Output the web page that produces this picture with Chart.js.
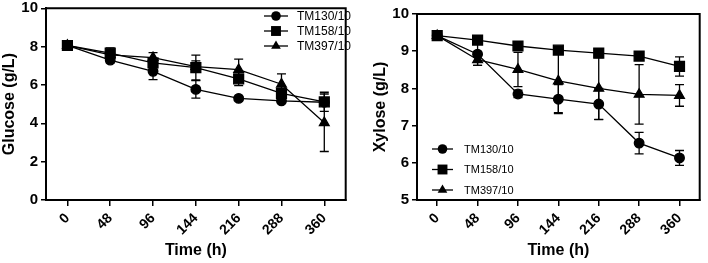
<!DOCTYPE html>
<html>
<head>
<meta charset="utf-8">
<script src="https://cdn.jsdelivr.net/npm/chart.js@4.4.0/dist/chart.umd.min.js"></script>
<style>
    body { margin: 0; background: #fff; }
    #wrap { position: relative; width: 708px; height: 263px; }
    #left, #right { position: absolute; top: 0; }
    #left { left: 0; }
    #right { left: 354px; }
    .lg { position: absolute; font-family: 'Liberation Sans', Arial, sans-serif; color: #000; line-height: 1; white-space: nowrap; }
</style>
</head>
<body>
<div id="wrap">
    <canvas id="left" width="354" height="263"></canvas>
    <canvas id="right" width="354" height="263"></canvas>
</div>
<script>
const times = ['0', '48', '96', '144', '216', '288', '360'];
const strains = ['TM130/10', 'TM158/10', 'TM397/10'];

// glucose (g/L)
const glcTM130 = [8.07, 7.30, 6.71, 5.77, 5.30, 5.17, 5.10];
const glcTM130Err = [0.05, 0.15, 0.43, 0.46, 0.08, 0.08, 0.10];
const glcTM158 = [8.06, 7.66, 7.15, 6.91, 6.32, 5.56, 5.12];
const glcTM158Err = [0.05, 0.28, 0.20, 0.65, 0.35, 0.20, 0.50];
const glcTM397 = [8.06, 7.57, 7.43, 6.96, 6.80, 6.04, 4.03];
const glcTM397Err = [0.05, 0.10, 0.26, 0.30, 0.55, 0.54, 1.50];
const glcTicks = [0, 2, 4, 6, 8, 10];

// xylose (g/L)
const xylTM130 = [9.42, 8.92, 7.85, 7.71, 7.58, 6.53, 6.13];
const xylTM130Err = [0.03, 0.30, 0.10, 0.39, 0.42, 0.29, 0.20];
const xylTM158 = [9.42, 9.30, 9.14, 9.03, 8.95, 8.87, 8.59];
const xylTM158Err = [0.03, 0.05, 0.05, 0.05, 0.05, 0.05, 0.26];
const xylTM397 = [9.42, 8.77, 8.51, 8.20, 8.00, 7.84, 7.81];
const xylTM397Err = [0.03, 0.15, 0.46, 0.85, 0.83, 0.80, 0.29];
const xylTicks = [5, 6, 7, 8, 9, 10];

const FONT = "'Liberation Sans', Arial, sans-serif";
const styles = ['circle', 'rect', 'triangle'];
const radii = [4.8, 7, 5.6];

// error bars, frame and legend symbols
const errorBars = {
    id: 'errorBars',
    beforeDatasetsDraw(chart) {
        const ctx = chart.ctx;
        const y = chart.scales.y;
        ctx.save();
        ctx.strokeStyle = '#000';
        ctx.lineWidth = 1.3;
        chart.data.datasets.forEach((ds, i) => {
            const meta = chart.getDatasetMeta(i);
            meta.data.forEach((pt, j) => {
                const e = ds.errors[j];
                const top = y.getPixelForValue(ds.data[j] + e);
                const bot = y.getPixelForValue(ds.data[j] - e);
                ctx.beginPath();
                ctx.moveTo(pt.x, top); ctx.lineTo(pt.x, bot);
                ctx.moveTo(pt.x - 4.5, top); ctx.lineTo(pt.x + 4.5, top);
                ctx.moveTo(pt.x - 4.5, bot); ctx.lineTo(pt.x + 4.5, bot);
                ctx.stroke();
            });
        });
        ctx.restore();
    },
    afterDraw(chart, args, lg) {
        const ctx = chart.ctx;
        const a = chart.chartArea;
        ctx.save();
        ctx.strokeStyle = '#000';
        ctx.fillStyle = '#000';
        ctx.lineWidth = 2;
        ctx.beginPath();
        ctx.rect(a.left, a.top, a.right - a.left, a.bottom - a.top);
        ctx.stroke();
        ctx.lineWidth = 1.3;
        for (let i = 0; i < strains.length; i++) {
            const yy = lg.y + i * lg.step;
            ctx.beginPath();
            ctx.moveTo(lg.x, yy);
            ctx.lineTo(lg.x + lg.len, yy);
            ctx.stroke();
            Chart.helpers.drawPoint(ctx, { pointStyle: styles[i], radius: radii[i], borderWidth: 0 },
                lg.x + lg.len / 2, yy);
        }
        ctx.restore();
    }
};

function addLegendText(offset, lg) {
    const wrap = document.getElementById('wrap');
    strains.forEach((name, i) => {
        const d = document.createElement('div');
        d.className = 'lg';
        d.textContent = name;
        d.style.fontSize = lg.fontSize + 'px';
        d.style.left = (offset + lg.x + lg.len + lg.gap) + 'px';
        d.style.top = (lg.y + i * lg.step - lg.fontSize * 0.5) + 'px';
        wrap.appendChild(d);
    });
}

function makeSets(a, b, c, ea, eb, ec) {
    return [a, b, c].map((d, i) => ({
        label: strains[i],
        data: d,
        errors: [ea, eb, ec][i],
        borderColor: '#000',
        backgroundColor: '#000',
        borderWidth: 1.3,
        pointStyle: styles[i],
        pointRadius: radii[i],
        tension: 0
    }));
}

function makeChart(id, sets, yMin, yMax, step, title, yWidth, pad, legend) {
    return new Chart(document.getElementById(id), {
        type: 'line',
        data: { labels: times, datasets: sets },
        options: {
            responsive: false,
            animation: false,
            layout: { padding: pad },
            plugins: {
                legend: { display: false },
                tooltip: { enabled: false },
                errorBars: legend
            },
            scales: {
                x: {
                    offset: true,
                    afterFit: (s) => { s.height = 60; },
                    grid: { drawOnChartArea: false, color: '#000', tickLength: 6, lineWidth: 1.5 },
                    border: { color: '#000', width: 2 },
                    ticks: {
                        color: '#000', maxRotation: 45, minRotation: 45, padding: 4,
                        font: { family: FONT, size: 14, weight: 'bold' }
                    },
                    title: {
                        display: true, text: 'Time (h)', color: '#000', padding: 0,
                        font: { family: FONT, size: 16, weight: 'bold' }
                    }
                },
                y: {
                    min: yMin, max: yMax,
                    afterFit: (s) => { s.width = yWidth; s.paddingTop = 0; s.paddingBottom = 0; },
                    grid: { drawOnChartArea: false, color: '#000', tickLength: 5, lineWidth: 1.5 },
                    border: { color: '#000', width: 2 },
                    ticks: {
                        stepSize: step, color: '#000', padding: 3,
                        font: { family: FONT, size: 15, weight: 'bold' }
                    },
                    title: {
                        display: true, text: title, color: '#000', padding: 0,
                        font: { family: FONT, size: 16, weight: 'bold' }
                    }
                }
            }
        },
        plugins: [errorBars]
    });
}

const leftLegend = { x: 264, y: 16, step: 15, len: 24, gap: 9, fontSize: 12 };
const rightLegend = { x: 78, y: 149, step: 20.5, len: 21, gap: 11, fontSize: 11 };

makeChart('left', makeSets(glcTM130, glcTM158, glcTM397, glcTM130Err, glcTM158Err, glcTM397Err),
    glcTicks[0], glcTicks[glcTicks.length - 1], 2, 'Glucose (g/L)', 46,
    { top: 7, right: 6, left: 0, bottom: 3 }, leftLegend);

makeChart('right', makeSets(xylTM130, xylTM158, xylTM397, xylTM130Err, xylTM158Err, xylTM397Err),
    xylTicks[0], xylTicks[xylTicks.length - 1], 1, 'Xylose (g/L)', 46,
    { top: 14, right: 2, left: 17, bottom: 3 }, rightLegend);

addLegendText(0, leftLegend);
addLegendText(354, rightLegend);
</script>
</body>
</html>
